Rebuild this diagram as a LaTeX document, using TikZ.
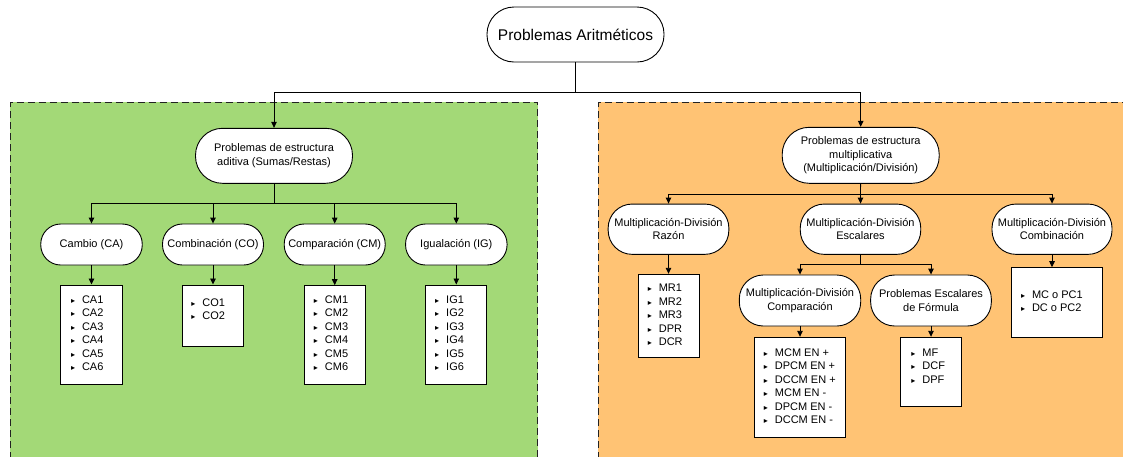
\documentclass[tikz,border=0pt]{standalone}
\usepackage{fontspec}
\setmainfont{Liberation Sans}
\newfontfamily\symfont{DejaVu Sans}
\usetikzlibrary{arrows.meta}
\definecolor{addgreen}{HTML}{A3D977}
\definecolor{multorange}{HTML}{FFC374}
\definecolor{dashgray}{HTML}{222222}
% one bulleted list entry
\newcommand{\itm}[1]{\strut\makebox[11pt][l]{\symfont\fontsize{8}{8}\selectfont ▸}#1}
\begin{document}
\begin{tikzpicture}[x=1pt,y=-1pt,
  conn/.style={line width=0.9pt},
  arr/.style={conn,-{Triangle[width=5.5pt,length=6pt]}},
  pill/.style={draw=black,fill=white,line width=0.9pt,rounded corners=20pt,
    align=center,inner sep=0pt,font=\fontsize{11}{13.5}\selectfont},
  listbox/.style={draw=black,fill=white,line width=1pt,inner sep=0pt},
  items/.style={anchor=north west,inner sep=0pt,align=left,
    font=\fontsize{11}{13.5}\selectfont},
  region/.style={draw=dashgray,line width=1pt,dash pattern=on 7pt off 4pt}]
\useasboundingbox (0,0) rectangle (1123,456);
\clip (0,0) rectangle (1123,456);
\fill[white] (0,0) rectangle (1123,456);

% the two coloured regions, running past the lower and right edges
\fill[addgreen] (10.3,102.3) rectangle (537.5,470);
\draw[region] (10.3,470) -- (10.3,102.3) -- (537.5,102.3) -- (537.5,470);
\fill[multorange] (598.2,102.3) rectangle (1140,470);
\draw[region] (598.2,470) -- (598.2,102.3) -- (1140,102.3);

% root
\node[pill,rounded corners=27pt,minimum width=177pt,minimum height=55pt,
  font=\fontsize{15.5}{18}\selectfont] (root) at (575.5,34.5) {Problemas Aritméticos};

% additive branch
\node[pill,rounded corners=27pt,minimum width=157pt,minimum height=55pt] (add) at (274,155.8)
  {Problemas de estructura\\aditiva (Sumas/Restas)};
\node[pill,minimum width=101.5pt,minimum height=41pt] (cca) at (91.5,244.5) {Cambio (CA)};
\node[pill,minimum width=101pt,minimum height=41pt] (cco) at (213,244.5) {Combinación (CO)};
\node[pill,minimum width=101pt,minimum height=41pt] (ccm) at (334.7,244.5) {Comparación (CM)};
\node[pill,minimum width=101.5pt,minimum height=41pt] (cig) at (456.3,244.5) {Igualación (IG)};

\node[listbox,minimum width=61.4pt,minimum height=99.3pt] (lca) at (91.4,334.65) {};
\node[listbox,minimum width=61.1pt,minimum height=61.7pt] (lco) at (213,315.85) {};
\node[listbox,minimum width=61.1pt,minimum height=98.6pt] (lcm) at (334.8,335) {};
\node[listbox,minimum width=61.1pt,minimum height=99.3pt] (lig) at (456.2,334.65) {};

\node[items] (ica) at (70.8,293.8) {\itm{CA1}\\\itm{CA2}\\\itm{CA3}\\\itm{CA4}\\\itm{CA5}\\\itm{CA6}};
\node[items] (ico) at (191.2,296.5) {\itm{CO1}\\\itm{CO2}};
\node[items] (icm) at (313.7,293.8) {\itm{CM1}\\\itm{CM2}\\\itm{CM3}\\\itm{CM4}\\\itm{CM5}\\\itm{CM6}};
\node[items] (iig) at (435,293.8) {\itm{IG1}\\\itm{IG2}\\\itm{IG3}\\\itm{IG4}\\\itm{IG5}\\\itm{IG6}};

% multiplicative branch
\node[pill,rounded corners=27pt,minimum width=157pt,minimum height=56pt] (mul) at (860.7,155.3)
  {Problemas de estructura\\multiplicativa\\(Multiplicación/División)};
\node[pill,rounded corners=24pt,minimum width=120.7pt,minimum height=50.3pt] (mraz) at (668.5,229.2)
  {Multiplicación-División\\Razón};
\node[pill,rounded corners=24pt,minimum width=120.5pt,minimum height=50.3pt] (mesc) at (860.5,229.2)
  {Multiplicación-División\\Escalares};
\node[pill,rounded corners=24pt,minimum width=120pt,minimum height=50.3pt] (mcom) at (1052,229.2)
  {Multiplicación-División\\Combinación};
\node[pill,rounded corners=24pt,minimum width=121.4pt,minimum height=51pt] (mcmp) at (800,300.5)
  {Multiplicación-División\\Comparación};
\node[pill,rounded corners=24pt,minimum width=120.7pt,minimum height=51pt] (mfor) at (931,300.5)
  {Problemas Escalares\\de Fórmula};

\node[listbox,minimum width=60.7pt,minimum height=83.4pt] (lraz) at (669,316) {};
\node[listbox,minimum width=91.1pt,minimum height=69.6pt] (lcom) at (1057.3,302.5) {};
\node[listbox,minimum width=90.4pt,minimum height=100pt] (lcmp) at (799.8,387.3) {};
\node[listbox,minimum width=60.6pt,minimum height=69.4pt] (lfor) at (930.7,372) {};

\node[items] (iraz) at (647.6,282.2) {\itm{MR1}\\\itm{MR2}\\\itm{MR3}\\\itm{DPR}\\\itm{DCR}};
\node[items] (icom) at (1020.8,288.5) {\itm{MC o PC1}\\\itm{DC o PC2}};
\node[items] (icmp) at (763.7,346.5) {\itm{MCM EN +}\\\itm{DPCM EN +}\\\itm{DCCM EN +}\\\itm{MCM EN -}\\\itm{DPCM EN -}\\\itm{DCCM EN -}};
\node[items] (ifor) at (911.2,346.5) {\itm{MF}\\\itm{DCF}\\\itm{DPF}};

% connectors
\coordinate (j0) at (575.5,92.3);
\draw[conn] (root) -- (j0);
\draw[arr] (j0) -| (add);
\draw[arr] (j0) -| (mul);

\coordinate (j1) at (274,203.3);
\draw[conn] (add) -- (j1);
\foreach \c in {cca,cco,ccm,cig} \draw[arr] (j1) -| (\c);
\draw[arr] (cca.south) -- (cca.south |- lca.north);
\draw[arr] (cco.south) -- (cco.south |- lco.north);
\draw[arr] (ccm.south) -- (ccm.south |- lcm.north);
\draw[arr] (cig.south) -- (cig.south |- lig.north);

\coordinate (j2) at (860.5,194);
\draw[conn] (mul) -- (j2);
\foreach \c in {mraz,mesc,mcom} \draw[arr] (j2) -| (\c);
\draw[arr] (mraz.south) -- (mraz.south |- lraz.north);
\draw[arr] (mcom.south) -- (mcom.south |- lcom.north);

\coordinate (j3) at (860.5,264.3);
\draw[conn] (mesc) -- (j3);
\draw[arr] (j3) -| (mcmp);
\draw[arr] (j3) -| (mfor);
\draw[arr] (mcmp.south) -- (mcmp.south |- lcmp.north);
\draw[arr] (mfor.south) -- (mfor.south |- lfor.north);
\end{tikzpicture}
\end{document}
